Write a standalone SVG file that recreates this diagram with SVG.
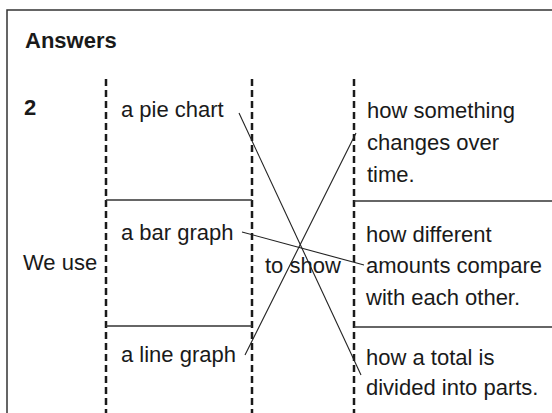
<svg xmlns="http://www.w3.org/2000/svg" width="552" height="413" viewBox="0 0 552 413">
<style>
text{font-family:"Liberation Sans",Arial,sans-serif;font-size:22px;fill:#1a1a1a}
.b{font-weight:bold}
.frame{stroke:#333;stroke-width:1.5;fill:none}
.dash{stroke:#1a1a1a;stroke-width:2.5;stroke-dasharray:7 4;fill:none}
.rule{stroke:#333;stroke-width:1.5;fill:none}
.conn{stroke:#222;stroke-width:1.1;fill:none}
</style>
<rect width="552" height="413" fill="#fff"/>
<g id="frame">
<path class="frame" d="M7,413 V10 H552"/>
<text class="b" x="25" y="48">Answers</text>
<text class="b" x="24" y="115">2</text>
</g>
<g id="grid">
<line class="dash" x1="106" y1="79" x2="106" y2="413"/>
<line class="dash" x1="252" y1="79" x2="252" y2="413"/>
<line class="dash" x1="354" y1="79" x2="354" y2="413"/>
<line class="rule" x1="106" y1="200" x2="252" y2="200"/>
<line class="rule" x1="106" y1="326" x2="252" y2="326"/>
<line class="rule" x1="354" y1="201" x2="552" y2="201"/>
<line class="rule" x1="354" y1="327" x2="552" y2="327"/>
</g>
<g id="we-use"><text x="23" y="270">We use</text></g>
<g id="pie-chart"><text x="121" y="117">a pie chart</text></g>
<g id="bar-graph"><text x="121" y="240">a bar graph</text></g>
<g id="line-graph"><text x="121" y="362">a line graph</text></g>
<g id="to-show"><text x="265" y="273">to show</text></g>
<g id="changes"><text x="367" y="118">how something</text><text x="367" y="150">changes over</text><text x="367" y="182">time.</text></g>
<g id="compare"><text x="366" y="242">how different</text><text x="366" y="273">amounts compare</text><text x="366" y="305">with each other.</text></g>
<g id="total"><text x="366" y="365">how a total is</text><text x="366" y="395">divided into parts.</text></g>
<g id="connectors">
<line class="conn" x1="239" y1="113" x2="361" y2="375"/>
<line class="conn" x1="242" y1="232" x2="364" y2="265"/>
<line class="conn" x1="245" y1="355" x2="356" y2="133"/>
</g>
</svg>
